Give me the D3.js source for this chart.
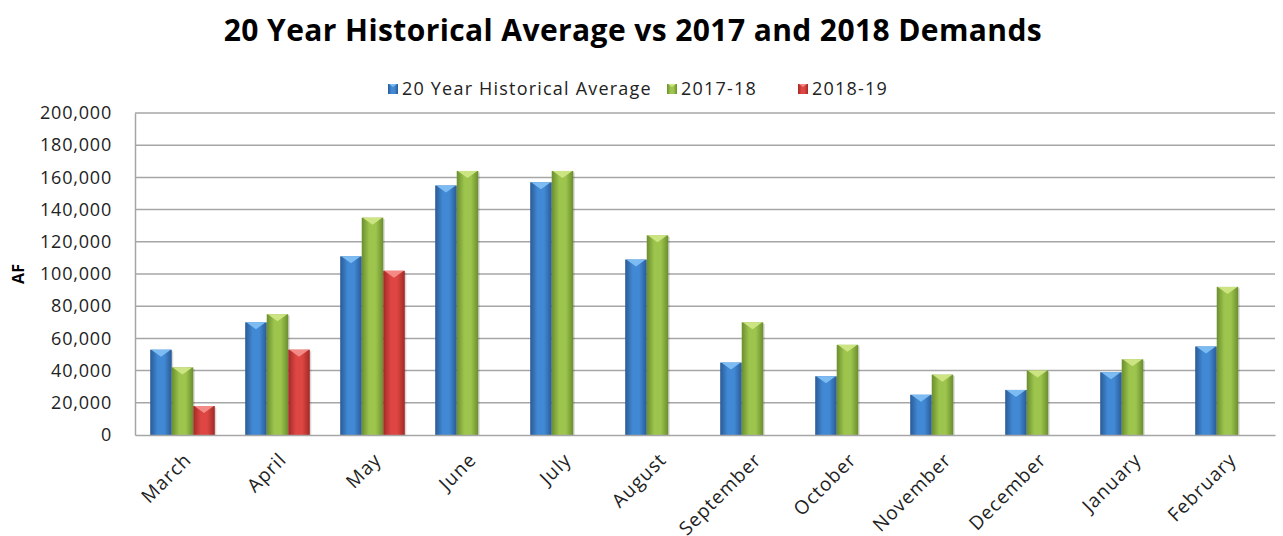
<!DOCTYPE html>
<html>
  <script src="https://d3js.org/d3.v7.min.js" type="text/JavaScript"></script>
  <body style="margin:0;background:#fff">
    <svg />
    <script>
var months = ['March', 'April', 'May', 'June', 'July', 'August', 'September',
  'October', 'November', 'December', 'January', 'February'];
var seriesNames = ['20 Year Historical Average', '2017-18', '2018-19'];
var histAvg = [53000, 70000, 111000, 155000, 157000, 109000, 45000, 36500, 25000, 28000, 39000, 55000];
var demand1718 = [42000, 75000, 135000, 164000, 164000, 124000, 70000, 56000, 37500, 40000, 47000, 92000];
var demand1819 = [18000, 53000, 102000, null, null, null, null, null, null, null, null, null];
var yTicks = [0, 20000, 40000, 60000, 80000, 100000, 120000, 140000, 160000, 180000, 200000];

var allSeries = [histAvg, demand1718, demand1819];

// edge, middle, top-bevel colours per series
var colors = [
  {edge: '#2a5a96', mid: '#4189d4', light: '#7cbcf2'},
  {edge: '#6a8e2e', mid: '#9dc54d', light: '#cde483'},
  {edge: '#a22926', mid: '#dd4642', light: '#f38a86'}
];

var W = 1283, H = 536;
var plotL = 135, plotR = 1275, plotT = 113, plotB = 435;

var svg = d3.select('svg').attr('width', W).attr('height', H)
  .style('font-family', '"Open Sans", sans-serif');

var defs = svg.append('defs');
colors.forEach((c, i) => {
  var g = defs.append('linearGradient').attr('id', 'grad' + i)
    .attr('x1', 0).attr('x2', 1).attr('y1', 0).attr('y2', 0);
  g.append('stop').attr('offset', '0%').attr('stop-color', c.edge);
  g.append('stop').attr('offset', '35%').attr('stop-color', c.mid);
  g.append('stop').attr('offset', '65%').attr('stop-color', c.mid);
  g.append('stop').attr('offset', '100%').attr('stop-color', c.edge);
});

var x = d3.scaleBand().domain(months).range([plotL, plotR])
  .paddingInner(0.32).paddingOuter(0.16);
var xs = d3.scaleBand().domain([0, 1, 2]).range([0, x.bandwidth()]);
var y = d3.scaleLinear().domain([0, 200000]).range([plotB, plotT]);

// title
svg.append('text').attr('x', 633).attr('y', 41).attr('text-anchor', 'middle')
  .style('font-size', '30px').style('font-weight', 'bold').style('fill', '#000')
  .style('letter-spacing', '0.4px')
  .text('20 Year Historical Average vs 2017 and 2018 Demands');

// gridlines
svg.append('g').selectAll('line').data(yTicks.slice(1)).enter().append('line')
  .attr('x1', plotL).attr('x2', plotR)
  .attr('y1', d => y(d)).attr('y2', d => y(d))
  .style('stroke', '#a6a6a6').style('stroke-width', '1.5px');

// y axis
var yAxis = svg.append('g').attr('transform', 'translate(' + plotL + ',0)')
  .call(d3.axisLeft(y).tickValues(yTicks).tickSize(0).tickPadding(23)
    .tickFormat(d3.format(',')));
yAxis.select('.domain').style('stroke', '#a6a6a6').style('stroke-width', '1.5px');
yAxis.selectAll('text').style('font-size', '18px').style('fill', '#222')
  .style('letter-spacing', '0.8px')
  .style('font-family', '"Open Sans", sans-serif');

svg.append('text').attr('transform', 'translate(24,' + (plotT + plotB) / 2 + ') rotate(-90)')
  .attr('text-anchor', 'middle').style('font-size', '16px').style('font-weight', 'bold')
  .text('AF');

// bars
var groups = svg.append('g').selectAll('g').data(months).enter().append('g')
  .attr('transform', d => 'translate(' + x(d) + ',0)');

groups.each(function(m, mi) {
  var g = d3.select(this);
  allSeries.forEach((s, si) => {
    var v = s[mi];
    if (v == null) return;
    var bx = xs(si), bw = xs.bandwidth(), by = y(v), bh = y(0) - y(v);
    g.append('rect').attr('x', bx + 1.5).attr('y', by + 1.5).attr('width', bw).attr('height', bh - 1.5)
      .style('fill', 'rgba(0,0,0,0.15)');
    g.append('rect').attr('x', bx).attr('y', by).attr('width', bw).attr('height', bh)
      .style('fill', 'url(#grad' + si + ')');
    g.append('path')
      .attr('d', 'M' + (bx + 1) + ',' + by + 'L' + (bx + bw - 1) + ',' + by + 'L' + (bx + bw / 2) + ',' + (by + 7) + 'Z')
      .style('fill', colors[si].light);
  });
});

// x axis
var xAxis = svg.append('g').attr('transform', 'translate(0,' + plotB + ')')
  .call(d3.axisBottom(x).tickSize(0).tickPadding(0));
xAxis.select('.domain').style('stroke', '#a6a6a6').style('stroke-width', '1.5px');
xAxis.selectAll('text')
  .attr('text-anchor', 'end').attr('dy', 0)
  .attr('transform', 'translate(10,26) rotate(-45)')
  .style('font-size', '19px').style('fill', '#222')
  .style('letter-spacing', '1px')
  .style('font-family', '"Open Sans", sans-serif');

// legend
var legendX = [388, 667, 798];
var legend = svg.append('g').selectAll('g').data(seriesNames).enter().append('g')
  .attr('transform', (d, i) => 'translate(' + legendX[i] + ',84)');
legend.append('rect').attr('width', 10).attr('height', 10)
  .style('fill', (d, i) => 'url(#grad' + i + ')');
legend.append('path').attr('d', 'M1,0L9,0L5,3Z').style('fill', (d, i) => colors[i].light);
legend.append('text').attr('x', 14).attr('y', 11)
  .style('font-size', '18px').style('fill', '#222').style('letter-spacing', '1.2px')
  .text(d => d);
    </script>
  </body>
</html>
